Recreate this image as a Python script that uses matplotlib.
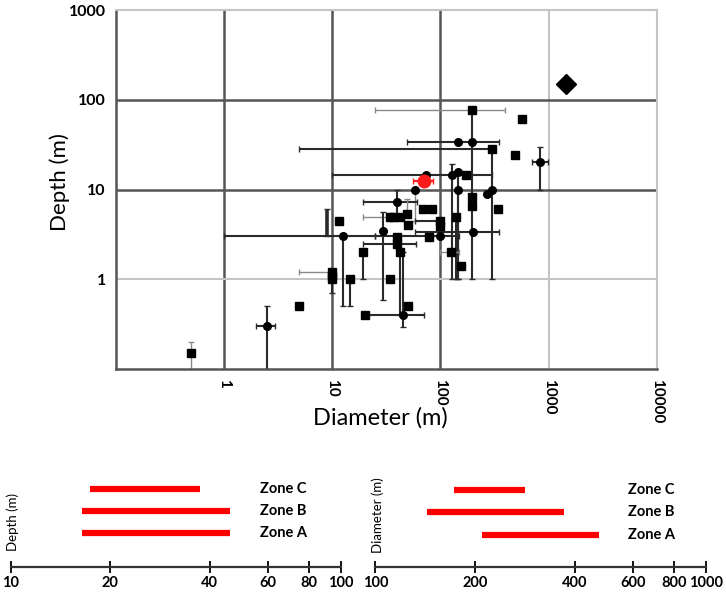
import numpy as np
import matplotlib
matplotlib.use("Agg")
import matplotlib.pyplot as plt
import matplotlib.ticker as ticker

plt.rcParams['font.family'] = ['Lato', 'DejaVu Sans']

nan = np.nan

# --- crater data (diameter m, depth m, error bounds, marker kind, bar tone) ---
diam      = [0.5, 2.5, 5, 10, 10, 10, 14.6, 20, 45, 50, 194, 563, 146, 194, 298, 489, 832,
             74, 128, 146, 172, 58, 144, 267, 298, 69.5, 83, 343, 39.5, 11.7, 8.9, 12.7,
             34.4, 42.7, 49, 50.6, 29.7, 39.5, 39.5, 42.4, 19.4, 34.3, 79, 100, 100, 100,
             139, 201, 194, 194, 124, 154, 36.7]
depth     = [0.15, 0.3, 0.5, 1.2, 1.0, 1.1, 1.0, 0.4, 0.4, 0.5, 77, 61, 34, 34, 28.3, 24, 20,
             14.6, 14.6, 15.8, 14.6, 10, 10, 9, 10, 6, 6, 6, 7.35, 4.45, 3, 3,
             4.9, 4.9, 5.4, 4.0, 3.44, 2.95, 2.5, 2.0, 2.0, 1.0, 2.95, 3, 4.5, 3.9,
             4.9, 3.4, 8.3, 6.5, 2.0, 1.4, 5.0]
diam_min  = [nan, 2.0, nan, 5, nan, nan, nan, nan, 20, nan, 25, nan, 49, nan, 5, nan, 700,
             10, nan, nan, nan, nan, nan, nan, nan, nan, nan, nan, 19.4, nan, nan, 1,
             19.4, nan, nan, nan, nan, nan, 19.4, nan, nan, nan, nan, 25, 58, nan,
             nan, 58, nan, nan, 100, nan, nan]
diam_max  = [nan, 3.0, nan, nan, nan, nan, nan, nan, 70, nan, 394, nan, 350, nan, nan, nan, 990,
             300, nan, nan, nan, nan, nan, nan, nan, nan, nan, nan, 60.4, nan, nan, 25,
             nan, nan, nan, nan, nan, nan, 60, nan, nan, nan, nan, 150, nan, nan,
             nan, 350, nan, nan, 150, nan, nan]
depth_min = [0.1, 0.1, nan, nan, 0.7, nan, 0.5, nan, 0.29, nan, nan, nan, nan, 1.0, 1.0, nan, 10,
             nan, 1.0, 1.0, nan, 4.5, 1.0, nan, nan, nan, nan, nan, 5.4, nan, nan, 0.5,
             nan, nan, nan, nan, 0.58, nan, nan, 0.4, 1.0, nan, nan, nan, nan, nan,
             1.0, nan, nan, nan, nan, nan, nan]
depth_max = [0.2, 0.5, nan, nan, nan, nan, nan, nan, 2.0, nan, nan, nan, nan, 77, nan, nan, 29.5,
             nan, 19.3, nan, nan, nan, nan, nan, nan, nan, nan, nan, 10, nan, 6.1, nan,
             nan, nan, 7.9, nan, 5.6, nan, nan, nan, nan, nan, nan, nan, nan, nan,
             nan, nan, nan, nan, nan, nan, nan]
kind      = ['s', 'o', 's', 's', 's', 's', 's', 's', 'o', 's', 's', 's', 'o', 'o', 's', 's', 'o',
             'o', 'o', 'o', 's', 'o', 'o', 'o', 'o', 's', 's', 's', 'o', 's', '', 'o',
             's', 's', 's', 's', 'o', 's', 's', 's', 's', 's', 's', 'o', 's', 's',
             's', 'o', 's', 's', 's', 's', 's']
tone      = ['light', 'dark', 'dark', 'light', 'dark', 'dark', 'dark', 'dark', 'dark', 'dark',
             'light', 'dark', 'dark', 'dark', 'dark', 'dark', 'dark',
             'dark', 'dark', 'dark', 'dark', 'light', 'dark', 'dark', 'dark', 'dark', 'dark',
             'dark', 'dark', 'dark', 'dark', 'dark',
             'light', 'dark', 'light', 'dark', 'dark', 'dark', 'dark', 'dark', 'dark', 'dark',
             'dark', 'dark', 'dark', 'dark', 'dark', 'dark', 'dark', 'dark', 'light', 'dark', 'dark']

# study site (red) and the large crater (diamond)
site_diam, site_depth = [70], [12.4]
site_diam_min, site_diam_max = [56], [85]
site_depth_min, site_depth_max = [11], [14]
big_diam, big_depth = [1445], [150]

# --- zone ranges ---
zones = ['Zone A', 'Zone B', 'Zone C']
zone_depth_min = [16.4, 16.4, 17.3]
zone_depth_max = [46.2, 46.2, 37.3]
zone_diam_min = [210, 143, 173]
zone_diam_max = [474, 371, 284]

depth_ticks = [10, 20, 40, 60, 80, 100]
diam_ticks = [100, 200, 400, 600, 800, 1000]

W, H = 726, 592
fig = plt.figure(figsize=(W / 100, H / 100), dpi=100)

# ---------------- main scatter ----------------
ax = fig.add_axes([115.5 / W, 1 - 369 / H, (657 - 115.5) / W, (369 - 10) / H])
ax.set_xscale('log')
ax.set_yscale('log')
ax.set_xlim(0.1, 10000)
ax.set_ylim(0.1, 1000)

dark_grid, light_grid = '#555555', '#c4c4c4'
for v in [1, 10, 100]:
    ax.axvline(v, color=dark_grid, lw=1.8, zorder=1)
ax.axvline(1000, color=light_grid, lw=1.5, zorder=1)
for v in [10, 100]:
    ax.axhline(v, color=dark_grid, lw=1.8, zorder=1)
ax.axhline(1, color=light_grid, lw=1.5, zorder=1)

for side in ['top', 'right']:
    ax.spines[side].set_color(light_grid)
    ax.spines[side].set_linewidth(1.5)
for side in ['left', 'bottom']:
    ax.spines[side].set_color(dark_grid)
    ax.spines[side].set_linewidth(1.8)

bar_style = {'dark': ('#2a2a2a', 1.5), 'light': ('#8a8a8a', 1.0)}
for i in range(len(diam)):
    x, y = diam[i], depth[i]
    xerr = None
    yerr = None
    if not (np.isnan(diam_min[i]) and np.isnan(diam_max[i])):
        lo = 0 if np.isnan(diam_min[i]) else x - diam_min[i]
        hi = 0 if np.isnan(diam_max[i]) else diam_max[i] - x
        xerr = [[lo], [hi]]
    if not (np.isnan(depth_min[i]) and np.isnan(depth_max[i])):
        lo = 0 if np.isnan(depth_min[i]) else y - depth_min[i]
        hi = 0 if np.isnan(depth_max[i]) else depth_max[i] - y
        yerr = [[lo], [hi]]
    c, lw = bar_style[tone[i]]
    if kind[i] == '':
        lw = 2.6
    ax.errorbar([x], [y], xerr=xerr, yerr=yerr, fmt='none', ecolor=c,
                elinewidth=lw, capsize=2, capthick=1, zorder=2)
    if kind[i]:
        ax.plot([x], [y], marker=kind[i], ms=5.5, color='black', ls='none', zorder=3)

ax.errorbar(site_diam, site_depth,
            xerr=[np.subtract(site_diam, site_diam_min), np.subtract(site_diam_max, site_diam)],
            yerr=[np.subtract(site_depth, site_depth_min), np.subtract(site_depth_max, site_depth)],
            fmt='o', ms=9, color='#ff1a1a', ecolor='#ff1a1a', elinewidth=1.5,
            capsize=2.5, zorder=4)
ax.plot(big_diam, big_depth, marker='D', ms=10, color='black', ls='none', zorder=4)

ax.xaxis.set_major_locator(ticker.FixedLocator([1, 10, 100, 1000, 10000]))
ax.yaxis.set_major_locator(ticker.FixedLocator([1, 10, 100, 1000]))
ax.xaxis.set_minor_locator(ticker.NullLocator())
ax.yaxis.set_minor_locator(ticker.NullLocator())
ax.xaxis.set_major_formatter(ticker.FuncFormatter(lambda v, _: f'{v:g}'))
ax.yaxis.set_major_formatter(ticker.FuncFormatter(lambda v, _: f'{v:g}'))
ax.tick_params(axis='x', length=0, pad=7, labelsize=11, labelrotation=270)
ax.tick_params(axis='y', length=0, pad=7, labelsize=11.5)
for lab in ax.get_xticklabels() + ax.get_yticklabels():
    lab.set_fontweight('bold')

ax.set_xlabel('Diameter (m)', fontsize=17)
ax.set_ylabel('Depth (m)', fontsize=16)
ax.xaxis.set_label_coords(0.49, -0.105)
ax.yaxis.set_label_coords(-0.1025, 0.52)
ax.yaxis.label.set(ha='center', va='center', rotation_mode='default')


# ---------------- zone panels ----------------
def zone_panel(rect, lo, hi, ticks, ylim, label, label_xy, text_x):
    a = fig.add_axes(rect)
    a.set_xscale('log')
    a.set_xlim(ticks[0], ticks[-1])
    a.set_ylim(*ylim)
    a.hlines(range(len(zones)), lo, hi, color='#ff0000', lw=4.5)
    for k, z in enumerate(zones):
        a.text(text_x, k, z, transform=a.get_yaxis_transform(), fontsize=10.5,
               fontweight='bold', va='center', ha='left')
    for side in ['left', 'right', 'top']:
        a.spines[side].set_visible(False)
    a.spines['bottom'].set_color('#333333')
    a.spines['bottom'].set_linewidth(1.6)
    a.set_yticks([])
    a.xaxis.set_major_locator(ticker.FixedLocator(ticks))
    a.xaxis.set_minor_locator(ticker.NullLocator())
    a.xaxis.set_major_formatter(ticker.FuncFormatter(lambda v, _: f'{v:g}'))
    a.tick_params(axis='x', direction='inout', length=9, width=1.3, labelsize=10.5, pad=2)
    for lab in a.get_xticklabels():
        lab.set_fontweight('bold')
    a.patch.set_alpha(0)
    fig.text(label_xy[0], label_xy[1], label, rotation=90, ha='center', va='center',
             fontsize=9.5)
    return a


zone_panel([11 / W, 1 - 567 / H, 330 / W, 95 / H], zone_depth_min, zone_depth_max,
           depth_ticks, (-1.55, 2.77), 'Depth (m)', (13 / W, 1 - 522 / H), 0.755)
zone_panel([375.3 / W, 1 - 567 / H, 331 / W, 95 / H], zone_diam_min, zone_diam_max,
           diam_ticks, (-1.40, 2.77), 'Diameter (m)', (378 / W, 1 - 515 / H), 0.763)

fig.savefig('out.png', dpi=100)
